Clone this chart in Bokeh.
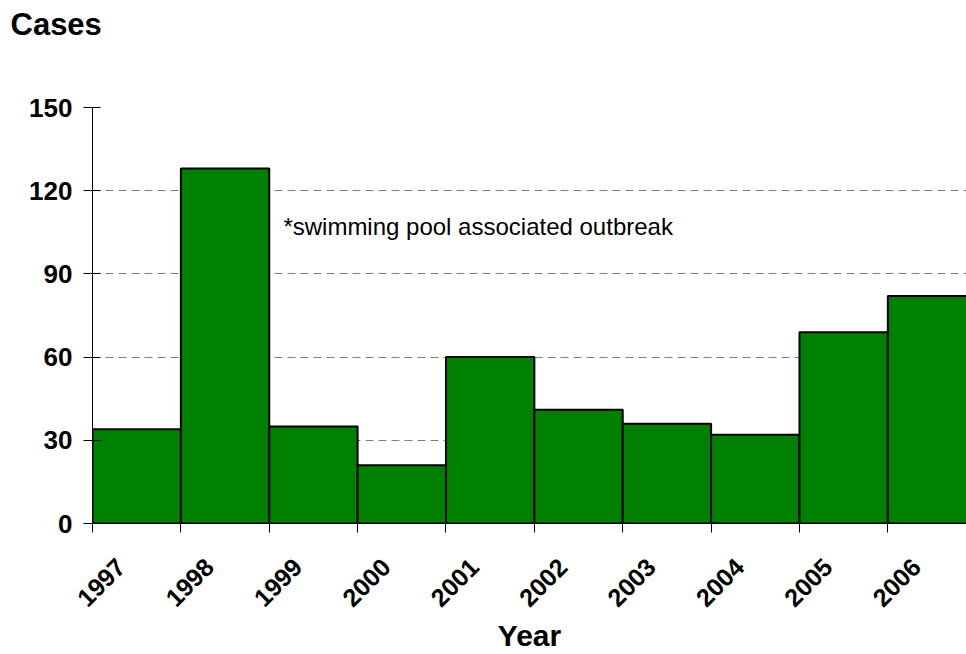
import math
from bokeh.plotting import figure
from bokeh.models import ColumnDataSource, FixedTicker, Range1d, LinearAxis, CustomLabelingPolicy
from bokeh.core.properties import value
from bokeh.embed import file_html
from bokeh.resources import INLINE

years = [1997, 1998, 1999, 2000, 2001, 2002, 2003, 2004, 2005, 2006]
cases = [34, 128, 35, 21, 60, 41, 36, 32, 69, 82]
y_ticks = [0, 30, 60, 90, 120, 150]
title_text = "Cases"
x_label = "Year"
note_text = "*swimming pool associated outbreak"

FONT = "Liberation Sans"
LABEL_SHIFT = 0.32
HIDE_ALL = "for (const i of indices) { indices.unset(i) } return indices"

src = ColumnDataSource(dict(left=years, right=[y + 1 for y in years], top=cases, bottom=[0] * len(years)))

p = figure(width=966, height=654, output_backend="svg", toolbar_location=None,
           x_range=Range1d(1997, 2006.89), y_range=Range1d(0, 150),
           min_border_left=92, min_border_right=0, min_border_top=107, min_border_bottom=131)
p.outline_line_color = None
p.background_fill_color = "white"
p.border_fill_color = "white"

p.quad(left="left", right="right", top="top", bottom="bottom", source=src,
       fill_color="#008000", line_color="black", line_width=2)

# y axis
p.yaxis.ticker = FixedTicker(ticks=y_ticks)
p.yaxis.minor_tick_line_color = None
p.yaxis.major_tick_in = 8
p.yaxis.major_tick_out = 9
p.yaxis.axis_line_color = "black"
p.yaxis.major_tick_line_color = "black"
p.yaxis.major_label_text_font = FONT
p.yaxis.major_label_text_font_style = "bold"
p.yaxis.major_label_text_font_size = "26px"
p.yaxis.major_label_text_color = "black"
p.yaxis.major_label_standoff = 11

# x axis: tick marks only
p.xaxis.ticker = FixedTicker(ticks=years)
p.xaxis.minor_tick_line_color = None
p.xaxis.major_tick_in = 0
p.xaxis.major_tick_out = 9
p.xaxis.axis_line_color = "black"
p.xaxis.major_tick_line_color = "black"
p.xaxis.major_label_text_font_size = "0px"
p.xaxis.major_label_standoff = 0
p.xaxis.major_label_policy = CustomLabelingPolicy(code=HIDE_ALL)

# title (sits above an invisible spacer axis)
p.title.text = title_text
p.title.text_font = FONT
p.title.text_font_style = "bold"
p.title.text_font_size = "31px"
p.title.text_color = "black"
p.title.align = "left"
p.title.offset = -82
p.title.standoff = 4

spacer = LinearAxis(ticker=FixedTicker(ticks=[years[0]]))
spacer.axis_line_color = None
spacer.major_tick_line_color = None
spacer.minor_tick_line_color = None
spacer.major_tick_in = 0
spacer.major_tick_out = 64
spacer.major_label_text_font_size = "0px"
spacer.major_label_standoff = 0
spacer.major_label_policy = CustomLabelingPolicy(code=HIDE_ALL)
p.add_layout(spacer, "above")

# second axis: rotated year labels + axis title
label_ticks = [y + LABEL_SHIFT for y in years]
lab_axis = LinearAxis(ticker=FixedTicker(ticks=label_ticks),
                      major_label_overrides={t: str(y) for t, y in zip(label_ticks, years)})
lab_axis.axis_line_color = None
lab_axis.major_tick_line_color = None
lab_axis.minor_tick_line_color = None
lab_axis.major_tick_out = 0
lab_axis.major_tick_in = 0
lab_axis.major_label_orientation = math.pi / 4
lab_axis.major_label_text_font = FONT
lab_axis.major_label_text_font_style = "bold"
lab_axis.major_label_text_font_size = "25px"
lab_axis.major_label_text_color = "black"
lab_axis.major_label_standoff = 30
lab_axis.axis_label = x_label
lab_axis.axis_label_text_font = FONT
lab_axis.axis_label_text_font_style = "bold"
lab_axis.axis_label_text_font_size = "30px"
lab_axis.axis_label_text_color = "black"
lab_axis.axis_label_standoff = 1
p.add_layout(lab_axis, "below")

# grid
p.xgrid.grid_line_color = None
p.ygrid.ticker = FixedTicker(ticks=y_ticks[1:])
p.ygrid.grid_line_color = "#808080"
p.ygrid.grid_line_dash = "8 5"
p.ygrid.grid_line_width = 1

p.text(x=[1999.16], y=[107], text=[note_text], text_font=value(FONT), text_font_size="24px",
       text_baseline="middle", text_align="left", text_color="black")

open("out.html", "w").write(file_html(p, INLINE))
